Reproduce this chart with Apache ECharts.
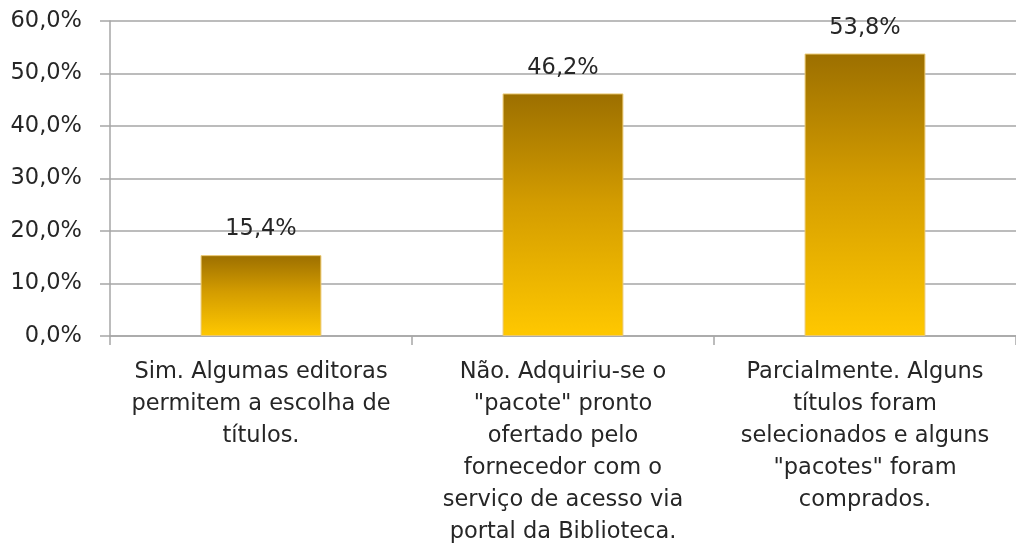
<!DOCTYPE html>
<html>
<head>
<meta charset="utf-8">
<script src="https://cdn.jsdelivr.net/npm/echarts@6/dist/echarts.min.js"></script>
<style>
  html, body { margin: 0; padding: 0; background: #ffffff; }
  #chart { width: 1016px; height: 548px; }
</style>
</head>
<body>
<div id="chart"></div>
<script>
// Answer categories (line breaks as they wrap under each bar)
const categories = [
  'Sim. Algumas editoras\npermitem a escolha de\ntítulos.',
  'Não. Adquiriu-se o\n"pacote" pronto\nofertado pelo\nfornecedor com o\nserviço de acesso via\nportal da Biblioteca.',
  'Parcialmente. Alguns\ntítulos foram\nselecionados e alguns\n"pacotes" foram\ncomprados.'
];
// Share of answers, in percent
const values = [15.4, 46.2, 53.8];
// Value axis range and step, in percent
const axisMin = 0;
const axisMax = 60;
const axisStep = 10;

const fmt = v => v.toFixed(1).replace('.', ',') + '%';
const font = '"DejaVu Sans", "Noto Sans", sans-serif';
const textColor = '#262626';
const lineColor = '#a6a6a6';

const chart = echarts.init(document.getElementById('chart'), null, { renderer: 'canvas' });
chart.setOption({
  backgroundColor: '#ffffff',
  animation: false,
  grid: { left: 110, top: 21, width: 911, height: 315, containLabel: false },
  xAxis: {
    type: 'category',
    data: categories,
    axisLine: { show: true, lineStyle: { color: lineColor, width: 1.5 } },
    axisTick: { show: true, alignWithLabel: false, length: 9, lineStyle: { color: lineColor, width: 1.5 } },
    axisLabel: {
      interval: 0, margin: 20, color: textColor, fontFamily: font, fontSize: 22.5,
      lineHeight: 32, align: 'center', verticalAlign: 'top'
    }
  },
  yAxis: {
    type: 'value',
    min: axisMin, max: axisMax, interval: axisStep,
    axisLine: { show: true, lineStyle: { color: lineColor, width: 1.5 } },
    axisTick: { show: true, length: 10, lineStyle: { color: lineColor, width: 1.5 } },
    splitLine: { show: true, lineStyle: { color: lineColor, width: 1.5 } },
    axisLabel: { margin: 28, color: textColor, fontFamily: font, fontSize: 22.5, formatter: fmt }
  },
  series: [{
    type: 'bar',
    data: values,
    barWidth: '40%',
    itemStyle: {
      borderColor: '#eac870',
      borderWidth: 1,
      color: new echarts.graphic.LinearGradient(0, 0, 0, 1, [
        { offset: 0, color: '#9c6f00' },
        { offset: 0.45, color: '#d39c00' },
        { offset: 1, color: '#ffc800' }
      ])
    },
    label: {
      show: true, position: 'top', distance: 14,
      color: textColor, fontFamily: font, fontSize: 22.5,
      formatter: p => fmt(p.value)
    }
  }]
});
</script>
</body>
</html>
